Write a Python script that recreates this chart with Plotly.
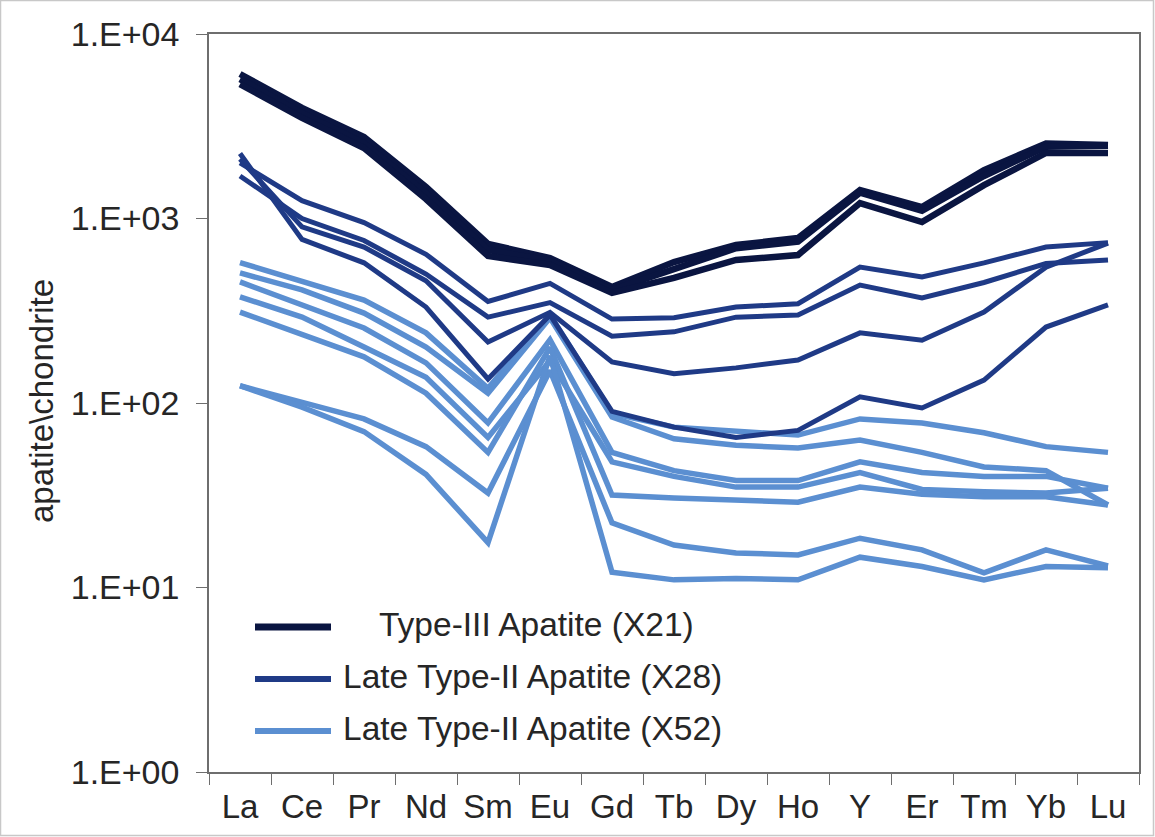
import plotly.graph_objects as go

# Chondrite-normalised REE + Y patterns of apatite
elements = ["La", "Ce", "Pr", "Nd", "Sm", "Eu", "Gd", "Tb", "Dy", "Ho", "Y", "Er", "Tm", "Yb", "Lu"]

# Type-III apatite, sample X21
x21_a = [6070, 3975, 2765, 1483, 728, 611, 425, 581, 718, 783, 1426, 1153, 1830, 2550, 2500]
x21_b = [5700, 3730, 2560, 1375, 675, 590, 410, 530, 690, 750, 1380, 1100, 1700, 2450, 2480]
x21_c = [5350, 3510, 2410, 1275, 626, 560, 395, 476, 596, 634, 1213, 957, 1515, 2265, 2265]

# Late Type-II apatite, sample X28
x28_a = [2000, 1250, 950, 640, 355, 445, 285, 290, 331, 345, 546, 482, 575, 700, 740]
x28_b = [1700, 1000, 760, 500, 292, 350, 230, 243, 292, 300, 436, 371, 450, 570, 596]
x28_c = [2100, 900, 700, 460, 214, 310, 167, 144, 155, 171, 240, 219, 311, 545, 736]
x28_d = [2250, 770, 575, 331, 135, 300, 90, 74, 65, 71, 108, 94, 133, 258, 340]

# Late Type-II apatite, sample X52
x52_a = [577, 453, 361, 240, 120, 300, 88, 74, 71, 67, 82, 78, 69, 58, 54]
x52_b = [507, 410, 307, 201, 113, 290, 84, 64, 59, 57, 63, 54, 45, 43, 28]
x52_c = [453, 340, 255, 165, 78, 220, 54, 43, 38, 38, 48, 42, 40, 40, 34.5]
x52_d = [376, 292, 201, 138, 65, 170, 48, 40, 35, 35, 42, 34, 33, 32.5, 34.5]
x52_e = [311, 234, 178, 113, 54, 200, 31.7, 30.6, 30, 29, 35, 32, 31, 31, 28]
x52_f = [124, 100, 82, 58, 32.5, 150, 22.4, 17, 15.4, 15, 18.5, 16, 12, 16, 13.1]
x52_g = [124, 95, 70, 41, 17.5, 180, 12.1, 11, 11.2, 11, 14.6, 13, 11, 13, 12.8]

groups = [
    ("Late Type-II Apatite (X52)", "#5b8fd1", 5.5, [x52_a, x52_b, x52_c, x52_d, x52_e, x52_f, x52_g]),
    ("Late Type-II Apatite (X28)", "#1f3a86", 5.0, [x28_a, x28_b, x28_c, x28_d]),
    ("Type-III Apatite (X21)", "#0a1541", 6.5, [x21_a, x21_b, x21_c]),
]

y_ticks = [1, 10, 100, 1000, 10000]
y_tick_text = ["1.E+00", "1.E+01", "1.E+02", "1.E+03", "1.E+04"]

W, H = 1155, 837
L, R, T, B = 209, 1139, 34, 772
FONT = "Liberation Sans, Arial, sans-serif"
TXT = "#262626"


def px(xp):
    return (xp - L) / (R - L)


def py(yp):
    return (B - yp) / (B - T)


fig = go.Figure()
for name, color, width, series in groups:
    for vals in series:
        fig.add_trace(go.Scatter(
            x=elements, y=vals, mode="lines", name=name,
            line=dict(color=color, width=width),
            showlegend=False,
        ))

# legend drawn as line samples with labels
legend_rows = [
    ("Type-III Apatite (X21)", "#0a1541", 7, 627, 377),
    ("Late Type-II Apatite (X28)", "#1f3a86", 6, 679, 341),
    ("Late Type-II Apatite (X52)", "#5b8fd1", 6, 731, 341),
]
shapes = []
annotations = []
for label, color, lw, yrow, xtext in legend_rows:
    shapes.append(dict(type="line", xref="paper", yref="paper",
                       x0=px(255), x1=px(331), y0=py(yrow), y1=py(yrow),
                       line=dict(color=color, width=lw)))
    annotations.append(dict(text=label, xref="paper", yref="paper",
                            x=px(xtext), y=py(yrow - 3), xanchor="left", yanchor="middle",
                            showarrow=False, font=dict(family=FONT, size=33.5, color=TXT)))

# y-axis title
annotations.append(dict(text="apatite\\chondrite", xref="paper", yref="paper",
                        x=px(41), y=py(401), xanchor="center", yanchor="middle",
                        textangle=-90, showarrow=False,
                        font=dict(family=FONT, size=33, color=TXT)))

# outer frame of the figure
shapes.append(dict(type="rect", xref="paper", yref="paper",
                   x0=px(0.5), x1=px(W - 1.5), y0=py(H - 1.5), y1=py(0.5),
                   line=dict(color="#c8c8c8", width=1.5), layer="below"))

fig.update_layout(
    width=W, height=H,
    margin=dict(l=L, r=W - R, t=T, b=H - B),
    paper_bgcolor="white", plot_bgcolor="white",
    shapes=shapes, annotations=annotations,
    showlegend=False,
    font=dict(family=FONT, color=TXT),
)
fig.update_xaxes(
    type="category", range=[-0.5, len(elements) - 0.5],
    tickson="boundaries", ticks="outside", ticklen=11, tickwidth=1.2, tickcolor="#6e6e6e",
    showline=True, linecolor="#6e6e6e", linewidth=1.5, mirror=True,
    showgrid=False, zeroline=False,
    tickfont=dict(family=FONT, size=33, color=TXT), ticklabelstandoff=5,
)
fig.update_yaxes(
    type="log", range=[0, 4], tickvals=y_ticks, ticktext=y_tick_text,
    ticks="outside", ticklen=11, tickwidth=1.2, tickcolor="#6e6e6e",
    showline=True, linecolor="#6e6e6e", linewidth=1.5, mirror=True,
    showgrid=False, zeroline=False,
    tickfont=dict(family=FONT, size=34, color=TXT), ticklabelstandoff=10,
)

fig.write_html("out.html")
